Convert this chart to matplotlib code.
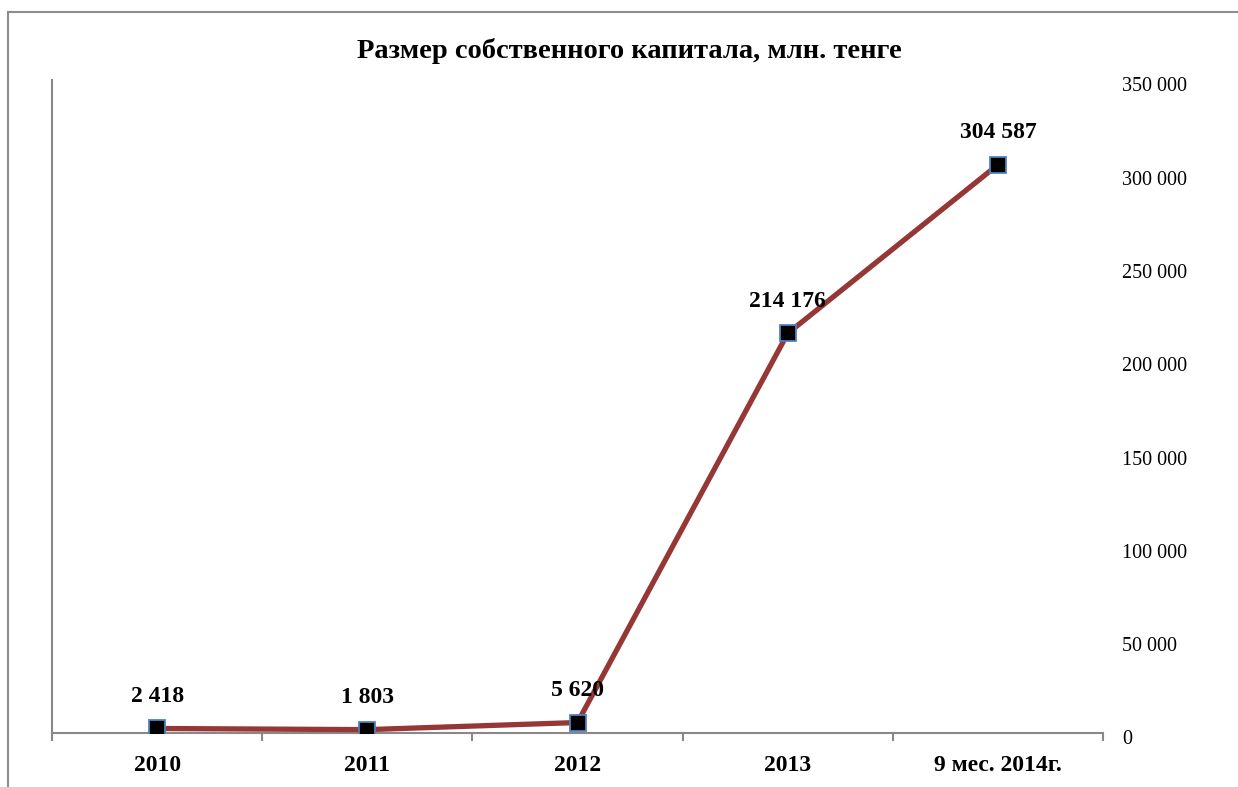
import matplotlib
matplotlib.use("Agg")
import matplotlib.pyplot as plt
from matplotlib.lines import Line2D
from matplotlib.ticker import FuncFormatter
from matplotlib.transforms import ScaledTranslation

categories = ["2010", "2011", "2012", "2013", "9 мес. 2014г."]
values = [2418, 1803, 5620, 214176, 304587]
labels = ["2 418", "1 803", "5 620", "214 176", "304 587"]
title = "Размер собственного капитала, млн. тенге"

plt.rcParams['font.family'] = ['Liberation Serif', 'DejaVu Serif']

fig = plt.figure(figsize=(12.38, 7.87), dpi=100)
ax = fig.add_axes([52/1238, 1-733/787, (1103-52)/1238, (733-80)/787])

x = list(range(len(categories)))
ax.plot(x, values, color='#953735', linewidth=3.8, marker='s', markersize=11,
        markerfacecolor='black', markeredgecolor='#4F81BD', markeredgewidth=1.3,
        solid_capstyle='round', zorder=3)

for xi, v, lab in zip(x, values, labels):
    ax.annotate(lab, (xi, v), xytext=(0, 23), textcoords='offset points',
                ha='center', va='center', fontsize=17, fontweight='bold')

ax.set_xlim(-0.5, len(categories) - 0.5)
ax.set_ylim(0, 350000)

ax.yaxis.tick_right()
ax.set_yticks(range(0, 350001, 50000))
ax.yaxis.set_major_formatter(FuncFormatter(lambda v, p: f"{int(v):,}".replace(",", " ")))
ax.tick_params(axis='y', length=0, pad=14, labelsize=14.5)
offset = ScaledTranslation(0, -5/72, fig.dpi_scale_trans)
for t in ax.get_yticklabels():
    t.set_horizontalalignment('left')
    t.set_verticalalignment('center')
    t.set_transform(t.get_transform() + offset)

ax.set_xticks([i - 0.5 for i in range(len(categories) + 1)])
ax.set_xticklabels([])
ax.set_xticks(x, minor=True)
ax.set_xticklabels(categories, minor=True, fontsize=17, fontweight='bold')
ax.tick_params(axis='x', which='major', length=6, width=1.5, color='#888888', direction='out')
ax.tick_params(axis='x', which='minor', length=0, pad=16)

for s in ['top', 'right']:
    ax.spines[s].set_visible(False)
for s in ['left', 'bottom']:
    ax.spines[s].set_color('#888888')
    ax.spines[s].set_linewidth(1.5)
ax.spines['left'].set_bounds(0, 350000)

fig.text(629/1238, 1-51/787, title, ha='center', va='center', fontsize=20.5, fontweight='bold')

# outer border (partially cropped)
fig.add_artist(Line2D([8/1238, 8/1238], [0, 1-12/787], transform=fig.transFigure, color='#8c8c8c', linewidth=1.5))
fig.add_artist(Line2D([8/1238, 1], [1-12/787, 1-12/787], transform=fig.transFigure, color='#8c8c8c', linewidth=1.5))

fig.savefig("out.png", dpi=100)
